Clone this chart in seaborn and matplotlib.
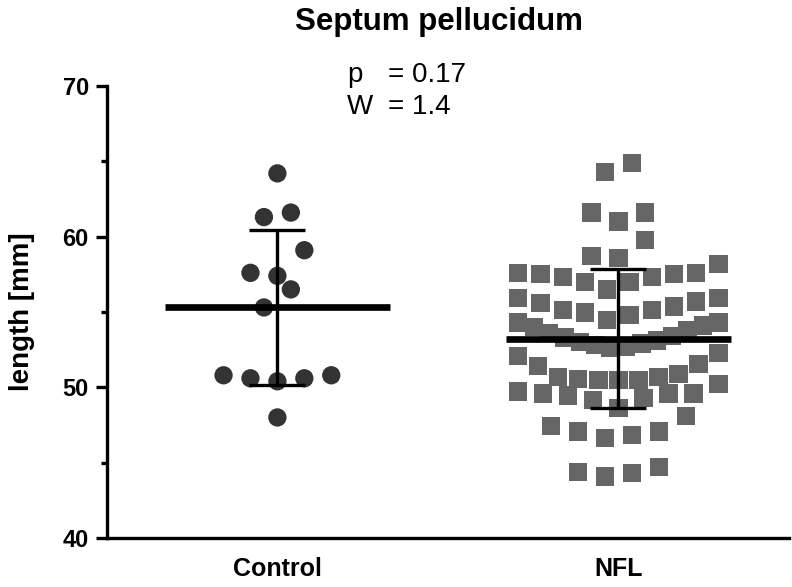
import numpy as np
import pandas as pd
import matplotlib.pyplot as plt
import seaborn as sns

sns.set_theme(style="ticks")
plt.rcParams["font.family"] = ["Liberation Sans", "DejaVu Sans"]
plt.rcParams.update({"text.color": "black", "axes.labelcolor": "black",
                     "xtick.color": "black", "ytick.color": "black"})

# values (mm)
groups = ["Control", "NFL"]
control = [64.2, 61.3, 61.6, 59.1, 57.6, 57.4, 56.5, 55.3,
           50.8, 50.6, 50.4, 50.6, 50.8, 48.0]
nfl = [64.9, 64.3,
       61.6, 61.0, 61.6, 59.8, 58.7, 58.6,
       57.6, 57.5, 57.3, 57.0, 56.5, 57.0, 57.3, 57.5, 57.6, 58.2,
       55.95, 55.7, 55.36, 55.14, 54.8, 54.47, 54.96, 55.14, 55.6, 55.95,
       54.3, 54.0, 53.6, 53.3, 53.0, 52.8, 52.6, 52.7, 52.9, 53.1, 53.4, 53.8, 54.1, 54.3,
       52.08, 51.42, 50.67, 50.56, 50.49, 50.49, 50.49, 50.67, 50.89, 51.55, 52.3,
       50.2, 49.6, 49.6, 49.28, 48.61, 49.16, 49.45, 49.6, 49.72,
       48.1,
       47.06, 46.84, 46.62, 47.06, 47.44,
       44.4, 44.08, 44.3, 44.7]
stat_names = ["p", "W"]
stat_values = ["= 0.17", "= 1.4"]
colors = {"Control": "#333333", "NFL": "#666666"}
markers = {"Control": "o", "NFL": "s"}


def prism_offsets(values, row_height=1.85, step=0.079, max_width=0.587):
    # Prism-style scatter: group close values into rows, lowest in the middle
    values = np.asarray(values)
    order = np.argsort(values, kind="stable")
    vals = values[order]
    offsets = np.zeros(len(vals))
    i = 0
    while i < len(vals):
        j = i
        while j < len(vals) and vals[j] - vals[i] <= row_height:
            j += 1
        n = j - i
        gap = step if n < 2 else min(step, max_width / (n - 1))
        if n % 2:
            slots = [0] + [s for k in range(1, n // 2 + 1) for s in (-k, k)]
        else:
            slots = [s for k in range(n // 2) for s in (-(k + 0.5), k + 0.5)]
        offsets[order[i:j]] = np.array(slots) * gap
        i = j
    return offsets


frames = []
for gi, (name, vals) in enumerate(zip(groups, [control, nfl])):
    frames.append(pd.DataFrame({"group": name, "value": vals,
                                "x": gi + prism_offsets(vals)}))
df = pd.concat(frames, ignore_index=True)

fig = plt.figure(figsize=(7.92, 5.87), dpi=100)
ax = fig.add_axes([0.135, 0.0835, 0.861, 0.77])

sns.scatterplot(data=df, x="x", y="value", hue="group", style="group",
                palette=colors, markers=markers, s=174, linewidth=0,
                legend=False, ax=ax, zorder=2)

summary = df.groupby("group", sort=False)["value"].agg(["mean", "std"])
for gi, name in enumerate(groups):
    m, sd = summary.loc[name, "mean"], summary.loc[name, "std"]
    ax.hlines(m, gi - 0.33, gi + 0.33, color="black", lw=4.8, zorder=4)
    ax.errorbar(gi, m, yerr=sd, fmt="none", ecolor="black", elinewidth=2.4,
                capsize=20, capthick=2.4, zorder=3)

ax.set_xlim(-0.5, 1.5)
ax.set_ylim(40, 70)
ax.set_xticks([0, 1])
ax.set_xticklabels(groups, fontsize=18, fontweight="bold")
ax.set_yticks([40, 50, 60, 70])
ax.set_yticks([45, 55, 65], minor=True)
for lab in ax.get_yticklabels():
    lab.set_fontsize(17)
    lab.set_fontweight("bold")
ax.tick_params(axis="y", which="major", length=8, width=2.4, pad=5)
ax.tick_params(axis="y", which="minor", length=4.5, width=2.4)
ax.tick_params(axis="x", length=0, pad=14)
ax.set_xlabel("")
ax.set_ylabel("length [mm]", fontsize=20, fontweight="bold", labelpad=20)
sns.despine(ax=ax)
for side in ["left", "bottom"]:
    ax.spines[side].set_linewidth(2.4)
    ax.spines[side].set_color("black")
    ax.spines[side].set_capstyle("projecting")

ax.text(0.487, 1.142, "Septum pellucidum", transform=ax.transAxes,
        ha="center", va="center", fontsize=22.5, fontweight="bold")
for k, (nm, val) in enumerate(zip(stat_names, stat_values)):
    yy = 1.024 - 0.071 * k
    ax.text(0.352, yy, nm, transform=ax.transAxes, ha="left", va="center", fontsize=20)
    ax.text(0.412, yy, val, transform=ax.transAxes, ha="left", va="center", fontsize=20)

fig.savefig("out.png", dpi=100)
